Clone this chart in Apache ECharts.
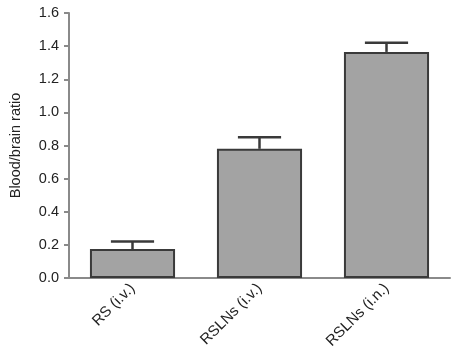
<!DOCTYPE html>
<html>
<head>
<meta charset="utf-8">
<script src="https://cdn.jsdelivr.net/npm/echarts@6/dist/echarts.min.js"></script>
<style>
  html, body { margin: 0; padding: 0; background: #fff; }
  #chart { width: 456px; height: 358px; }
</style>
</head>
<body>
<div id="chart"></div>
<script>
var categories = ['RS (i.v.)', 'RSLNs (i.v.)', 'RSLNs (i.n.)'];
var ratio = [0.175, 0.78, 1.365];
var errUp = [0.045, 0.07, 0.055];

var chart = echarts.init(document.getElementById('chart'));

var errData = ratio.map(function (v, i) { return [i, v, v + errUp[i]]; });

var option = {
  animation: false,
  grid: { left: 63, right: 6, top: 13, bottom: 80 },
  xAxis: {
    type: 'category',
    data: categories,
    axisLine: { lineStyle: { color: '#8a8a8a', width: 2 } },
    axisTick: { alignWithLabel: true, length: 5, lineStyle: { color: '#8a8a8a', width: 2 } },
    axisLabel: {
      rotate: 45, color: '#222', fontSize: 15, fontFamily: 'Liberation Sans, Arial', margin: 8
    }
  },
  yAxis: {
    type: 'value',
    min: 0, max: 1.6, interval: 0.2,
    name: 'Blood/brain ratio',
    nameLocation: 'middle',
    nameGap: 46,
    nameTextStyle: { color: '#222', fontSize: 14.5, fontFamily: 'Liberation Sans, Arial' },
    axisLine: { show: true, lineStyle: { color: '#8a8a8a', width: 2 } },
    axisTick: { show: true, length: 5, lineStyle: { color: '#8a8a8a', width: 2 } },
    splitLine: { show: false },
    axisLabel: {
      color: '#222', fontSize: 14.5, fontFamily: 'Liberation Sans, Arial', margin: 10,
      formatter: function (v) { return v.toFixed(1); }
    }
  },
  series: [
    {
      type: 'bar',
      data: ratio,
      barWidth: '67%',
      itemStyle: { color: '#a3a3a3', borderColor: '#3a3a3a', borderWidth: 2 }
    },
    {
      type: 'custom',
      data: errData,
      z: 5,
      renderItem: function (params, api) {
        var x = api.value(0);
        var lo = api.coord([x, api.value(1)]);
        var hi = api.coord([x, api.value(2)]);
        var half = api.size([1, 0])[0] * 0.17;
        var style = { stroke: '#3a3a3a', lineWidth: 2.5 };
        return {
          type: 'group',
          children: [
            { type: 'line', shape: { x1: lo[0], y1: lo[1], x2: hi[0], y2: hi[1] }, style: style },
            { type: 'line', shape: { x1: hi[0] - half, y1: hi[1], x2: hi[0] + half, y2: hi[1] }, style: style }
          ]
        };
      }
    }
  ]
};

chart.setOption(option);
</script>
</body>
</html>
